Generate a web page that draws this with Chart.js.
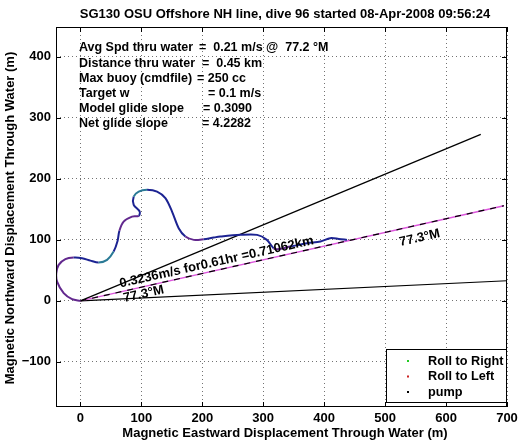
<!DOCTYPE html>
<html>
<head>
<meta charset="utf-8">
<script src="https://cdn.jsdelivr.net/npm/chart.js@4.4.1/dist/chart.umd.min.js"></script>
<style>
  html, body { margin: 0; padding: 0; background: #fff; }
</style>
</head>
<body>
<canvas id="diveChart" width="523" height="442"></canvas>
<script>
// dados
const trackX = [0, -13.6, -27.4, -38.2, -39.5, -35.6, -24.6, -11, 2.8, 16.4, 30, 43.8, 54.6, 61, 64, 71, 84.8, 95.7, 97.3, 87.5, 87.5, 95.7, 109.4, 125.8, 139.5, 150.4, 161.3, 172.3, 186, 202.3, 218.7, 229.7, 262.5, 290, 306, 317, 323, 344.5, 372, 394, 410, 424, 437.5];
const trackY = [0, 2.8, 12.6, 31.6, 45.4, 59, 68.4, 71, 70, 66, 62.8, 67.2, 80.8, 98, 115, 130, 138.2, 139.3, 146.4, 157.4, 171, 179.2, 182, 179.2, 168.4, 146.4, 119.2, 105.4, 100, 101.1, 103.8, 105.4, 108.2, 108.2, 100, 86.4, 84.8, 89, 94.6, 97.2, 102.8, 101.6, 100];
// L = roll to left, R = roll to right, '' = sem roll
const trackRoll = ['L', 'L', 'L', 'L', 'L', 'L', 'L', '', '', '', 'R', 'R', '', '', 'L', 'L', 'L', '', '', '', 'R', 'R', '', '', '', '', '', 'L', 'L', '', '', '', '', '', '', 'L', 'L', '', '', '', '', '', ''];

const upperX = [0, 657];
const upperY = [0, 273];
const headingX = [0, 695];
const headingY = [0, 156];
const lowerX = [0, 700];
const lowerY = [0, 33];

const xTicks = [0, 100, 200, 300, 400, 500, 600, 700];
const yTicks = [-100, 0, 100, 200, 300, 400];

const chartTitle = 'SG130 OSU Offshore NH line, dive 96 started 08-Apr-2008 09:56:24';
const xTitle = 'Magnetic Eastward Displacement Through Water (m)';
const yTitle = 'Magnetic Northward Displacement Through Water (m)';

const infoLabels = ['Avg Spd thru water', 'Distance thru water', 'Max buoy (cmdfile)', 'Target w', 'Model glide slope', 'Net glide slope'];
const infoValues = ['=  0.21 m/s @  77.2 \u00B0M', '=  0.45 km', '= 250 cc', '= 0.1 m/s', '= 0.3090', '= 4.2282'];

const speedText = '0.3236m/s for0.61hr =0.71062km';
const headingText = '77.3\u00B0M';

const legendLabels = ['Roll to Right', 'Roll to Left', 'pump'];
const legendColors = ['#22cc22', '#cc2222', '#000000'];

const FONT = '"Liberation Sans", Arial, Helvetica, sans-serif';
const rollColors = { L: '#62288e', R: '#2a7a96', '': '#1c2392' };

const toPts = (xs, ys) => xs.map((x, i) => ({ x, y: ys[i] }));

const matlabPlugin = {
    id: 'matlabDecor',
    afterDatasetsDraw(chart) {
        const { ctx, chartArea: a, scales } = chart;
        const sx = scales.x, sy = scales.y;
        ctx.save();

        // caixa + ticks internos
        ctx.strokeStyle = '#000';
        ctx.lineWidth = 1;
        ctx.setLineDash([]);
        ctx.strokeRect(a.left + 0.5, a.top + 0.5, a.right - a.left - 1, a.bottom - a.top - 1);
        ctx.beginPath();
        xTicks.forEach(v => {
            const px = Math.round(sx.getPixelForValue(v)) + 0.5;
            ctx.moveTo(px, a.bottom); ctx.lineTo(px, a.bottom - 5);
            ctx.moveTo(px, a.top); ctx.lineTo(px, a.top + 5);
        });
        yTicks.forEach(v => {
            const py = Math.round(sy.getPixelForValue(v)) + 0.5;
            ctx.moveTo(a.left, py); ctx.lineTo(a.left + 5, py);
            ctx.moveTo(a.right, py); ctx.lineTo(a.right - 5, py);
        });
        ctx.stroke();

        // textos ao longo da linha de rumo
        const x0 = sx.getPixelForValue(headingX[0]), y0 = sy.getPixelForValue(headingY[0]);
        const x1 = sx.getPixelForValue(headingX[1]), y1 = sy.getPixelForValue(headingY[1]);
        const ang = Math.atan2(y1 - y0, x1 - x0);
        const rotText = (txt, dx, dy) => {
            ctx.save();
            ctx.translate(sx.getPixelForValue(dx), sy.getPixelForValue(dy));
            ctx.rotate(ang);
            ctx.fillStyle = '#000';
            ctx.font = 'bold 13px ' + FONT;
            ctx.textAlign = 'left';
            ctx.textBaseline = 'alphabetic';
            ctx.fillText(txt, 0, 0);
            ctx.restore();
        };
        rotText(speedText, 66, 22);
        rotText(headingText, 72, -2);
        rotText(headingText, 525, 90);

        // bloco de informacoes
        ctx.fillStyle = '#000';
        ctx.font = 'bold 12.5px ' + FONT;
        ctx.textBaseline = 'middle';
        ctx.textAlign = 'left';
        const eqX = [199, 202, 197, 208, 203, 202];
        infoLabels.forEach((lab, i) => {
            const y = 48 + i * 15.1;
            ctx.fillText(lab, 79, y);
            ctx.fillText(infoValues[i], eqX[i], y);
        });

        // legenda
        const lg = { l: 386, t: 349, r: a.right, b: 403 };
        ctx.fillStyle = '#fff';
        ctx.fillRect(lg.l, lg.t, lg.r - lg.l, lg.b - lg.t);
        ctx.strokeStyle = '#000';
        ctx.strokeRect(lg.l + 0.5, lg.t + 0.5, lg.r - lg.l - 1, lg.b - lg.t - 1);
        ctx.font = 'bold 12.7px ' + FONT;
        legendLabels.forEach((lab, i) => {
            const y = 361 + i * 15.5;
            ctx.fillStyle = legendColors[i];
            ctx.fillRect(407, y - 1, 2, 2);
            ctx.fillStyle = '#000';
            ctx.fillText(lab, 428, y);
        });

        // titulos
        ctx.font = 'bold 13px ' + FONT;
        ctx.textAlign = 'center';
        ctx.fillText(chartTitle, 285, 14);
        ctx.fillText(xTitle, 285, 433);
        ctx.save();
        ctx.translate(10, 218);
        ctx.rotate(-Math.PI / 2);
        ctx.fillText(yTitle, 0, 0);
        ctx.restore();

        ctx.restore();
    }
};

new Chart(document.getElementById('diveChart'), {
    type: 'scatter',
    data: {
        datasets: [
            {
                label: 'track',
                data: toPts(trackX, trackY),
                showLine: true,
                borderColor: rollColors[''],
                borderWidth: 2,
                pointRadius: 0,
                tension: 0.3,
                segment: { borderColor: c => rollColors[trackRoll[c.p0DataIndex]] }
            },
            {
                label: 'upper',
                data: toPts(upperX, upperY),
                showLine: true,
                borderColor: '#000',
                borderWidth: 1.2,
                pointRadius: 0
            },
            {
                label: 'heading dash',
                data: toPts(headingX, headingY),
                showLine: true,
                borderColor: '#000',
                borderWidth: 1.2,
                borderDash: [6, 6],
                pointRadius: 0
            },
            {
                label: 'heading',
                data: toPts(headingX, headingY),
                showLine: true,
                borderColor: '#dd55dd',
                borderWidth: 1.4,
                pointRadius: 0
            },
            {
                label: 'lower',
                data: toPts(lowerX, lowerY),
                showLine: true,
                borderColor: '#000',
                borderWidth: 1.2,
                pointRadius: 0
            }
        ]
    },
    options: {
        responsive: false,
        animation: false,
        devicePixelRatio: 1,
        layout: { padding: { top: 27, right: 16, left: 0, bottom: 0 } },
        plugins: { legend: { display: false }, tooltip: { enabled: false }, title: { display: false } },
        scales: {
            x: {
                type: 'linear',
                min: -40, max: 700,
                afterBuildTicks: s => { s.ticks = xTicks.map(v => ({ value: v })); },
                afterFit: s => { s.height = 35; },
                grid: { color: 'rgba(0,0,0,0.55)', drawTicks: false, lineWidth: 1 },
                border: { display: false, dash: [1, 3] },
                ticks: { color: '#000', padding: 4, maxRotation: 0, font: { family: FONT, size: 13, weight: 'bold' },
                    callback: v => String(v).replace('-', '\u2212') }
            },
            y: {
                type: 'linear',
                min: -174, max: 449,
                afterBuildTicks: s => { s.ticks = yTicks.map(v => ({ value: v })); },
                afterFit: s => { s.width = 56; },
                grid: { color: 'rgba(0,0,0,0.55)', drawTicks: false, lineWidth: 1 },
                border: { display: false, dash: [1, 3] },
                ticks: { color: '#000', padding: 5, font: { family: FONT, size: 13, weight: 'bold' },
                    callback: v => String(v).replace('-', '\u2212') }
            }
        }
    },
    plugins: [matlabPlugin]
});
</script>
</body>
</html>
